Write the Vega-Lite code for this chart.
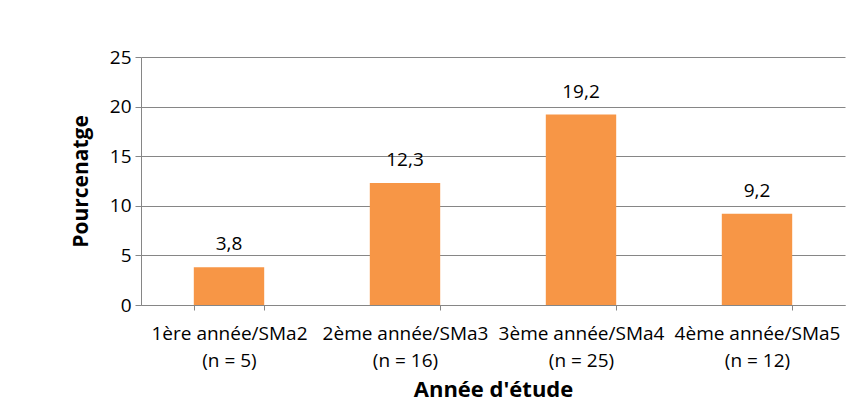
{
  "$schema": "https://vega.github.io/schema/vega-lite/v6.json",
  "width": 704,
  "height": 248,
  "autosize": "none",
  "padding": {"left": 141, "top": 57, "right": 15, "bottom": 98},
  "background": "white",
  "data": {
    "values": [
      {"annee": "1ère année/SMa2|(n = 5)", "pourcentage": 3.8},
      {"annee": "2ème année/SMa3|(n = 16)", "pourcentage": 12.3},
      {"annee": "3ème année/SMa4|(n = 25)", "pourcentage": 19.2},
      {"annee": "4ème année/SMa5|(n = 12)", "pourcentage": 9.2}
    ]
  },
  "encoding": {
    "x": {
      "field": "annee",
      "type": "nominal",
      "sort": null,
      "scale": {"paddingInner": 0.6, "paddingOuter": 0.3},
      "axis": {
        "title": "Année d'étude",
        "labelAngle": 0,
        "labelExpr": "split(datum.label, '|')",
        "labelLineHeight": 27,
        "labelFontSize": 19,
        "labelPadding": 14,
        "labelOverlap": false,
        "labelBound": false,
        "tickBand": "extent",
        "tickSize": 5,
        "titleFontSize": 22,
        "titlePadding": 9
      }
    },
    "y": {
      "field": "pourcentage",
      "type": "quantitative",
      "scale": {"domain": [0, 25]},
      "axis": {
        "title": "Pourcenatge",
        "values": [0, 5, 10, 15, 20, 25],
        "grid": true,
        "tickSize": 6,
        "labelPadding": 4,
        "labelFontSize": 19,
        "titleFontSize": 21,
        "titlePadding": 18
      }
    }
  },
  "layer": [
    {"mark": {"type": "bar", "color": "#F79646"}},
    {
      "mark": {"type": "text", "baseline": "alphabetic", "dy": -17, "fontSize": 19, "color": "#000000", "font": "Open Sans"},
      "encoding": {"text": {"field": "pourcentage", "type": "quantitative", "format": ".1f"}}
    }
  ],
  "config": {
    "locale": {"number": {"decimal": ",", "thousands": " ", "grouping": [3], "currency": ["", " €"]}},
    "font": "Open Sans",
    "view": {"stroke": null},
    "axis": {
      "domainColor": "#868686",
      "tickColor": "#868686",
      "gridColor": "#868686",
      "gridOpacity": 1,
      "domainWidth": 1,
      "labelColor": "#000000",
      "titleColor": "#000000",
      "labelFont": "Open Sans",
      "titleFont": "Open Sans",
      "titleFontWeight": "bold"
    }
  }
}
